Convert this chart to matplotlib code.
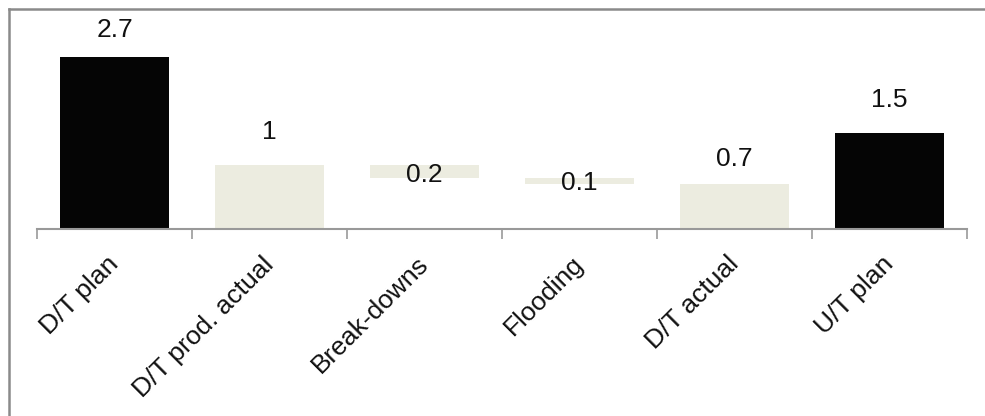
import matplotlib
matplotlib.use('Agg')
from matplotlib import pyplot as plt
from matplotlib.lines import Line2D
from matplotlib.transforms import ScaledTranslation

categories = ['D/T plan', 'D/T prod. actual', 'Break-downs', 'Flooding', 'D/T actual', 'U/T plan']
values = [2.7, 1.0, 0.2, 0.1, 0.7, 1.5]
bases = [0.0, 0.0, 0.8, 0.7, 0.0, 0.0]
value_labels = ['2.7', '1', '0.2', '0.1', '0.7', '1.5']
is_total = [True, False, False, False, False, True]

# label centre offsets in points from bar top (Excel puts them a bit oddly)
label_dy = [19.5, 24, -7, -3.5, 18, 24]

plt.rcParams['font.family'] = ['Liberation Sans', 'DejaVu Sans']

W, H = 985, 416
fig = plt.figure(figsize=(W / 100, H / 100), dpi=100)
ax = fig.add_axes([37 / W, 1 - 229 / H, 930 / W, 3 * 63.7 / H])

x = list(range(len(categories)))
colors = ['#050505' if t else '#ecece0' for t in is_total]
ax.bar(x, values, bottom=bases, width=0.7, color=colors, edgecolor='none')

for i, (v, b, lab) in enumerate(zip(values, bases, value_labels)):
    ax.annotate(lab, (i, v + b), xytext=(0, label_dy[i]), textcoords='offset points',
                ha='center', va='center', fontsize=19, color='#111111', annotation_clip=False)

ax.set_xlim(-0.5, len(categories) - 0.5)
ax.set_ylim(0, 3)
ax.set_yticks([])
for s in ['left', 'right', 'top']:
    ax.spines[s].set_visible(False)
ax.spines['bottom'].set_color('#999999')
ax.spines['bottom'].set_linewidth(1.5)

ax.set_xticks([i - 0.5 for i in range(len(categories) + 1)])
ax.set_xticklabels([])
ax.tick_params(axis='x', length=7, width=1.2, color='#999999', direction='out')
ax.set_xticks(x, minor=True)
ax.set_xticklabels(categories, minor=True, rotation=45, ha='right', fontsize=19, color='#111111')
ax.tick_params(axis='x', which='minor', length=0, pad=8)
shift = ScaledTranslation(9 / 100, -12 / 100, fig.dpi_scale_trans)
for t in ax.get_xticklabels(minor=True):
    t.set_transform(t.get_transform() + shift)

# outer frame (left and top edges only visible)
fig.add_artist(Line2D([8.5 / W, 8.5 / W], [0, 1 - 9 / H], color='#8a8a8a', lw=1.8))
fig.add_artist(Line2D([8.5 / W, 1], [1 - 9 / H, 1 - 9 / H], color='#8a8a8a', lw=1.8))

fig.savefig('out.png', dpi=100)
